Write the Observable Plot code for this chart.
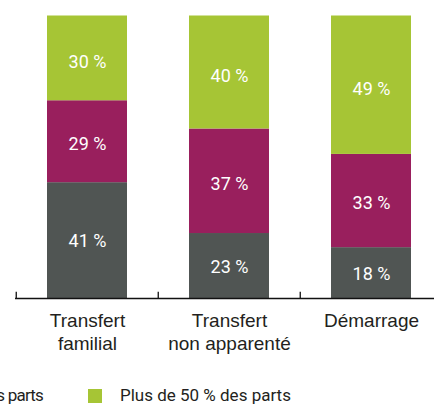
<!DOCTYPE html>
<html><head><meta charset="utf-8">
<script src="https://cdn.jsdelivr.net/npm/d3@7"></script>
<script src="https://cdn.jsdelivr.net/npm/@observablehq/plot@0.6"></script>
<style>
html,body{margin:0;padding:0;background:#fff;}
#wrap{position:relative;width:434px;height:404px;overflow:hidden;}
#wrap svg{position:absolute;left:0;top:0;}
.leg{position:absolute;display:flex;align-items:center;gap:18px;font-family:Roboto,sans-serif;font-size:17px;color:#231f20;white-space:nowrap;line-height:1;}
.item{display:flex;align-items:center;gap:18px;}
.sw{display:inline-block;width:14px;height:14px;}
</style></head><body><div id="wrap"></div>
<script>
const categories = ["Transfert familial", "Transfert non apparenté", "Démarrage"];
const categoryLabels = ["Transfert\nfamilial", "Transfert\nnon apparenté", "Démarrage"];
const series = ["Moins de 50 % des parts", "50 % des parts", "Plus de 50 % des parts"];
const moinsDe50 = [41, 23, 18];
const egal50 = [29, 37, 33];
const plusDe50 = [30, 40, 49];
const colors = ["#505553", "#991f5d", "#a6c535"];
const labelShift = [1, 2.5, 4];

const values = [moinsDe50, egal50, plusDe50];
const data = [];
series.forEach((s, i) => categories.forEach((c, j) => data.push({category: c, series: s, value: values[i][j]})));

const labelMarks = series.map((s, i) =>
  Plot.text(data, Plot.stackY({
    x: "category", y: "value", z: "series",
    text: d => d.series === s ? d.value + " %" : "",
    fill: "#ffffff", fontSize: 18, dy: labelShift[i]
  }))
);

const chart = Plot.plot({
  width: 434, height: 372,
  marginLeft: 15, marginRight: 0, marginTop: 15, marginBottom: 74,
  x: {domain: categories, range: [15, 442.5], paddingInner: 0.44, paddingOuter: 0.22, label: null},
  y: {domain: [0, 100], range: [298, 15.5], axis: null},
  color: {domain: series, range: colors},
  style: {fontFamily: "Roboto, sans-serif", background: "transparent", color: "#231f20"},
  marks: [
    Plot.barY(data, {x: "category", y: "value", fill: "series"}),
    ...labelMarks,
    Plot.ruleY([0], {stroke: "#111", strokeWidth: 1.3}),
    Plot.ruleX(categories, {x: d => d, y1: 0, y2: 2.2, dx: -71.25, stroke: "#111", strokeWidth: 1.3}),
    Plot.axisX({tickSize: 0, tickPadding: 12, fontSize: 19, lineHeight: 1.21, fontFamily: "Liberation Sans, Arial, sans-serif",
      tickFormat: d => categoryLabels[categories.indexOf(d)]})
  ]
});
const wrap = document.getElementById("wrap");
wrap.appendChild(chart);

function item(i) {
  const it = document.createElement("div");
  it.className = "item";
  const sw = document.createElement("span");
  sw.className = "sw";
  sw.style.background = colors[i];
  const t = document.createElement("span");
  t.textContent = series[i];
  it.appendChild(sw); it.appendChild(t);
  return it;
}
const left = document.createElement("div");
left.className = "leg";
left.style.right = (434 - 43) + "px";
left.style.top = "387px";
left.style.gap = "46px";
left.style.letterSpacing = "-0.8px";
left.appendChild(item(0)); left.appendChild(item(1));
wrap.appendChild(left);
const right = document.createElement("div");
right.className = "leg";
right.style.left = "88px";
right.style.top = "387px";
right.appendChild(item(2));
wrap.appendChild(right);
</script></body></html>
